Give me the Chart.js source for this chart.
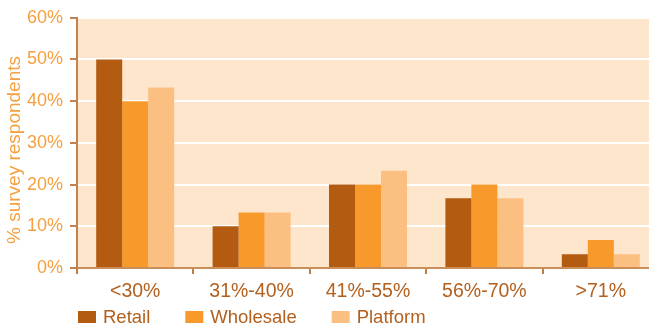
<!DOCTYPE html>
<html lang="en">
<head>
    <meta charset="UTF-8">
    <title>Survey respondents by margin</title>
    <script src="https://cdn.jsdelivr.net/npm/chart.js"></script>
    <style>
        body { margin: 0; background: #fff; overflow: hidden; }
        #wrap { width: 670px; height: 326px; position: relative; }
    </style>
</head>
<body>
    <div id="wrap"><canvas id="chart"></canvas></div>

    <script>
        const categories = ["<30%", "31%-40%", "41%-55%", "56%-70%", ">71%"];
        const retail = [50, 10, 20, 16.7, 3.3];
        const wholesale = [40, 13.3, 20, 20, 6.7];
        const platform = [43.3, 13.3, 23.3, 16.7, 3.3];
        const yTicks = [0, 10, 20, 30, 40, 50, 60];

        const fontFamily = "'Liberation Sans', Arial, Helvetica, sans-serif";
        const brown = "#b3601e";
        const orangeText = "#f5a040";

        // peach fill behind the plot
        const plotBg = {
            id: "plotBg",
            beforeDraw(chart) {
                const a = chart.chartArea, c = chart.ctx;
                c.save();
                c.fillStyle = "#fee6cc";
                c.fillRect(a.left, a.top, a.right - a.left, a.bottom - a.top);
                c.restore();
            }
        };

        // rotated y title, sitting a little below the plot middle
        const yTitle = {
            id: "yTitle",
            afterDraw(chart) {
                const c = chart.ctx;
                c.save();
                c.translate(15, 150);
                c.rotate(-Math.PI / 2);
                c.font = "19px " + fontFamily;
                c.fillStyle = orangeText;
                c.textAlign = "center";
                c.textBaseline = "middle";
                c.fillText("% survey respondents", 0, 0);
                c.restore();
            }
        };

        // legend row under the x labels, starting at the y axis
        const legendRow = {
            id: "legendRow",
            afterDraw(chart) {
                const c = chart.ctx;
                let x = chart.chartArea.left + 1;
                const y = 311;
                c.save();
                c.font = "18.5px " + fontFamily;
                c.textBaseline = "middle";
                chart.data.datasets.forEach(ds => {
                    c.fillStyle = ds.backgroundColor;
                    c.fillRect(x, y, 18, 12);
                    c.fillStyle = brown;
                    c.fillText(ds.label, x + 25, y + 7);
                    x += 25 + c.measureText(ds.label).width + 35;
                });
                c.restore();
            }
        };

        let ctx = document.getElementById("chart").getContext("2d");
        let chart = new Chart(ctx, {
            type: "bar",
            data: {
                labels: categories,
                datasets: [
                    { label: "Retail", data: retail, backgroundColor: "#b35b11" },
                    { label: "Wholesale", data: wholesale, backgroundColor: "#f7992b" },
                    { label: "Platform", data: platform, backgroundColor: "#fbbf81" }
                ]
            },
            options: {
                responsive: true,
                maintainAspectRatio: false,
                animation: false,
                layout: { padding: { top: 16, right: 11, left: 0, bottom: 0 } },
                datasets: { bar: { categoryPercentage: 0.67, barPercentage: 1 } },
                plugins: { legend: { display: false }, tooltip: { enabled: false } },
                scales: {
                    x: {
                        afterFit(scale) { scale.height = 58; },
                        border: { color: "#c98e5a", width: 2 },
                        grid: { drawOnChartArea: false, tickLength: 6, tickColor: "#c47f40", lineWidth: 2 },
                        ticks: {
                            color: brown, padding: 6,
                            font: { family: fontFamily, size: 19.5 }
                        }
                    },
                    y: {
                        min: 0, max: 60,
                        afterFit(scale) { scale.width = 77; },
                        afterBuildTicks(scale) { scale.ticks = yTicks.map(v => ({ value: v })); },
                        border: { color: "#bf8250", width: 2 },
                        grid: { color: "#ffffff", lineWidth: 2, tickLength: 7, tickColor: "#bf8250" },
                        ticks: {
                            color: orangeText, padding: 7,
                            font: { family: fontFamily, size: 18 },
                            callback: v => v + "%"
                        }
                    }
                }
            },
            plugins: [plotBg, yTitle, legendRow]
        });
    </script>
</body>
</html>
